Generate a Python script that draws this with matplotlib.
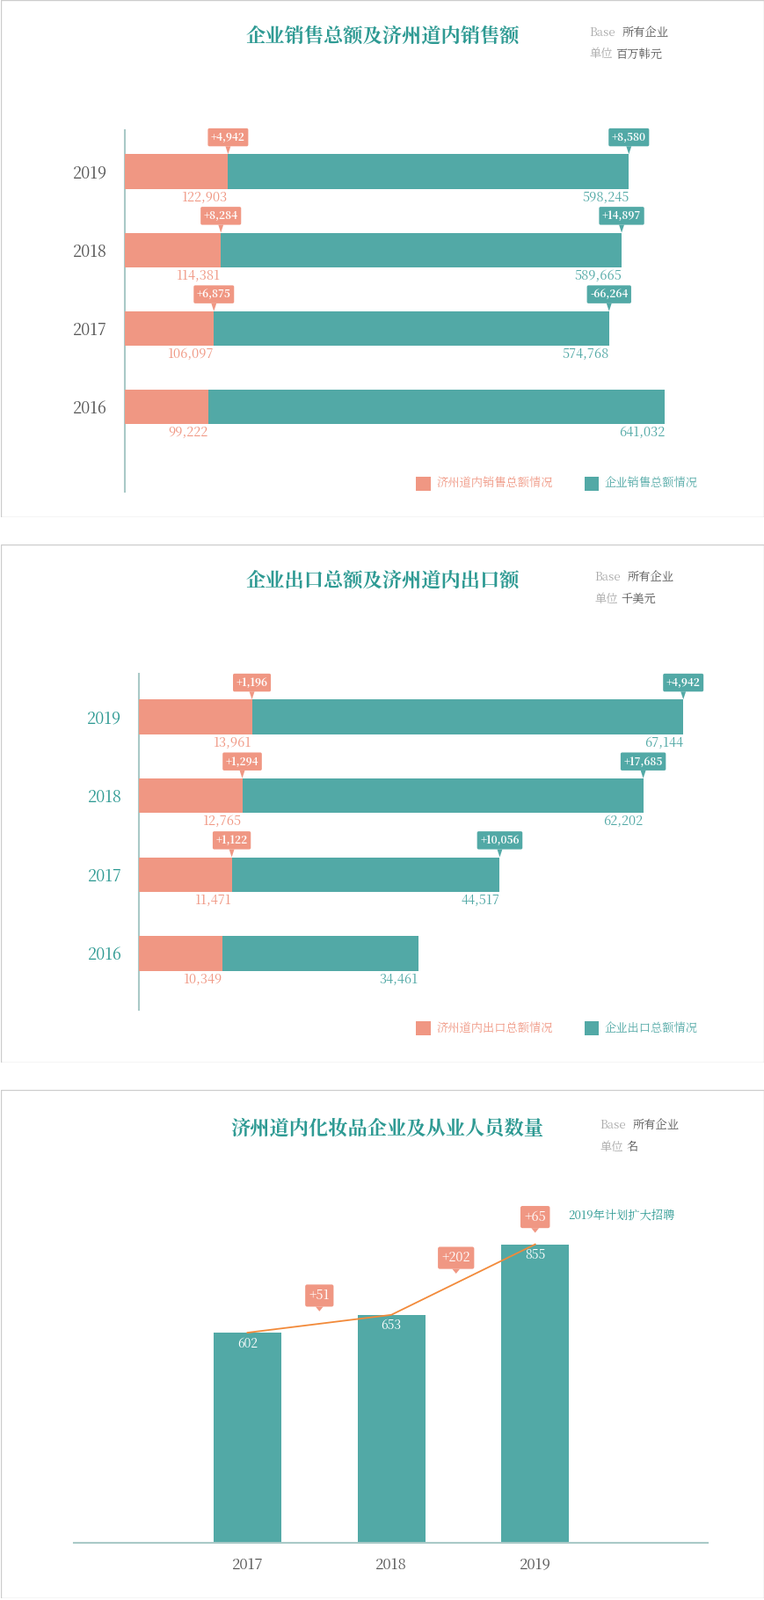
import matplotlib
matplotlib.use("Agg")
import matplotlib.pyplot as plt
from matplotlib.patches import Rectangle
from matplotlib import font_manager as fm

cjk = [f.name for f in fm.fontManager.ttflist if "CJK" in f.name]
pref = [n for n in cjk if "SC" in n] or cjk
plt.rcParams["font.family"] = (pref[:1] if pref else []) + ["Noto Sans CJK SC", "DejaVu Sans"]

SALMON = "#F09783"
TEAL = "#52A9A6"
TITLE = "#2E9A93"
GRAY = "#555555"

years = ["2016", "2017", "2018", "2019"]
sales_total = [641032, 574768, 589665, 598245]
sales_jeju = [99222, 106097, 114381, 122903]
sales_total_delta = [None, "-66,264", "+14,897", "+8,580"]
sales_jeju_delta = [None, "+6,875", "+8,284", "+4,942"]

export_total = [34461, 44517, 62202, 67144]
export_jeju = [10349, 11471, 12765, 13961]
export_total_delta = [None, "+10,056", "+17,685", "+4,942"]
export_jeju_delta = [None, "+1,122", "+1,294", "+1,196"]

emp_years = ["2017", "2018", "2019"]
employees = [602, 653, 855]
emp_delta = ["+51", "+202", "+65"]

W, H = 750.0, 1568.0
fig = plt.figure(figsize=(8.7, 18.19), dpi=100)


def rect(x0, y0, x1, y1):
    return [x0 / W, 1 - y1 / H, (x1 - x0) / W, (y1 - y0) / H]


def ftext(x, y, s, **kw):
    fig.text(x / W, 1 - y / H, s, **kw)


def frame(y0, y1):
    ax = fig.add_axes(rect(0.5, y0, 749.5, y1))
    ax.set_axis_off()
    ax.add_patch(Rectangle((0, 0), 1, 1, transform=ax.transAxes, fill=False, ec="#cccccc", lw=1))


def callout(ax, x, y, s, color, fs=8.5):
    ax.annotate(s, xy=(x, y), xytext=(0, 9), textcoords="offset points",
                ha="center", va="bottom", fontsize=fs, color="white", fontweight="bold",
                bbox=dict(boxstyle="round,pad=0.3,rounding_size=0.15", fc=color, ec="none"),
                arrowprops=dict(arrowstyle="wedge,tail_width=0.5", fc=color, ec="none", shrinkA=0, shrinkB=0),
                annotation_clip=False)


def hpanel(box, axr, ylim, xmax, total, jeju, tdelta, jdelta, title, unit, legs, ycolor):
    frame(*box)
    ax = fig.add_axes(rect(*axr))
    ypos = list(range(len(years)))
    ax.barh(ypos, total, height=0.44, color=TEAL, zorder=2)
    ax.barh(ypos, jeju, height=0.44, color=SALMON, zorder=3)
    ax.set_xlim(0, xmax)
    ax.set_ylim(*ylim)
    for s in ["top", "right", "bottom"]:
        ax.spines[s].set_visible(False)
    ax.spines["left"].set_color("#a9c9c7")
    ax.spines["left"].set_linewidth(1.5)
    ax.set_xticks([])
    ax.set_yticks(ypos)
    ax.set_yticklabels(years, fontsize=13, color=ycolor)
    ax.tick_params(axis="y", length=0, pad=14)
    for i in ypos:
        ax.annotate(f"{jeju[i]:,}", (jeju[i], i - 0.22), xytext=(0, -1), textcoords="offset points",
                    ha="right", va="top", fontsize=10.5, color=SALMON)
        ax.annotate(f"{total[i]:,}", (total[i], i - 0.22), xytext=(0, -1), textcoords="offset points",
                    ha="right", va="top", fontsize=10.5, color=TEAL)
        if jdelta[i]:
            callout(ax, jeju[i], i + 0.22, jdelta[i], SALMON)
        if tdelta[i]:
            callout(ax, total[i], i + 0.22, tdelta[i], TEAL)
    ty = box[0]
    ftext(375, ty + 36, title, ha="center", va="center", fontsize=16, fontweight="bold", color=TITLE)
    ftext(legs[2], ty + 32, "Base", fontsize=9.5, color="#aaaaaa", va="center")
    ftext(legs[2] + 32, ty + 32, "所有企业", fontsize=9.5, color=GRAY, va="center")
    ftext(legs[2], ty + 53, "单位", fontsize=9.5, color="#aaaaaa", va="center")
    ftext(legs[2] + 26, ty + 53, unit, fontsize=9.5, color=GRAY, va="center")
    ly = box[1] - 33
    for lx, lab, c in [(legs[0], legs[3], SALMON), (legs[1], legs[4], TEAL)]:
        a = fig.add_axes(rect(lx, ly - 7, lx + 14, ly + 7))
        a.set_axis_off()
        a.add_patch(Rectangle((0, 0), 1, 1, color=c))
        ftext(lx + 20, ly, lab, fontsize=9.5, color=c, va="center")


hpanel((0, 507), (122, 128, 652, 482), (-1.08, 3.52), 641032, sales_total, sales_jeju,
       sales_total_delta, sales_jeju_delta, "企业销售总额及济州道内销售额", "百万韩元",
       (408, 573, 578, "济州道内销售总额情况", "企业销售总额情况"), GRAY)
hpanel((534, 1041), (136, 660, 670, 990), (-0.72, 3.55), 67144, export_total, export_jeju,
       export_total_delta, export_jeju_delta, "企业出口总额及济州道内出口额", "千美元",
       (408, 573, 583, "济州道内出口总额情况", "企业出口总额情况"), TITLE)

# Panel 3
frame(1068, 1566)
ax = fig.add_axes(rect(72, 1100, 694, 1512))
xp = list(range(len(emp_years)))
ax.bar(xp, employees, width=0.47, color=TEAL, zorder=2)
ax.plot(xp, employees, color="#F28A3A", lw=1.3, zorder=3)
ax.set_xlim(-1.21, 3.2)
ax.set_ylim(0, 1204)
for s in ["top", "right", "left"]:
    ax.spines[s].set_visible(False)
ax.spines["bottom"].set_color("#a9c9c7")
ax.spines["bottom"].set_linewidth(1.5)
ax.set_yticks([])
ax.set_xticks(xp)
ax.set_xticklabels(emp_years, fontsize=12, color=GRAY)
ax.tick_params(axis="x", length=0, pad=12)
for i in xp:
    ax.text(i, employees[i] - 12, f"{employees[i]}", ha="center", va="top", fontsize=10, color="white", zorder=4)
cx = [0.5, 1.45, 2.0]
cy = [663, 771, 888]
for i in xp:
    ax.annotate(emp_delta[i], xy=(cx[i], cy[i]), xytext=(0, 7), textcoords="offset points",
                ha="center", va="bottom", fontsize=10.5, color="white",
                bbox=dict(boxstyle="round,pad=0.3,rounding_size=0.15", fc=SALMON, ec="none"),
                arrowprops=dict(arrowstyle="wedge,tail_width=0.6", fc=SALMON, ec="none", shrinkA=0, shrinkB=0),
                annotation_clip=False)
ftext(557, 1192, "2019年计划扩大招聘", fontsize=9.5, color=TITLE, va="center")
ftext(380, 1106, "济州道内化妆品企业及从业人员数量", ha="center", va="center", fontsize=16,
      fontweight="bold", color=TITLE)
ftext(588, 1103, "Base", fontsize=9.5, color="#aaaaaa", va="center")
ftext(620, 1103, "所有企业", fontsize=9.5, color=GRAY, va="center")
ftext(588, 1124, "单位", fontsize=9.5, color="#aaaaaa", va="center")
ftext(614, 1124, "名", fontsize=9.5, color=GRAY, va="center")

fig.savefig("out.png", dpi=100, facecolor="white")
